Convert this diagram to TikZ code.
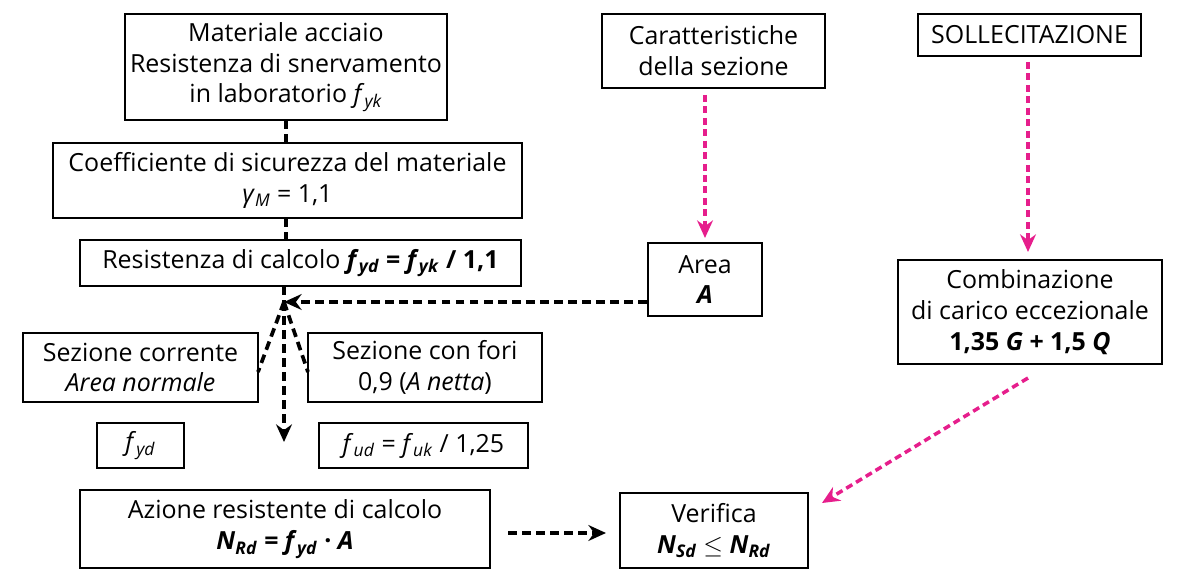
\documentclass[tikz,border=0pt]{standalone}
\usepackage{fontspec}
\setmainfont{Open Sans}
\usetikzlibrary{arrows.meta}
\definecolor{mag}{RGB}{230,30,140}
\newcommand{\vsub}[2]{\textit{#1}\textsubscript{\textit{#2}}}
\tikzset{box/.style={draw,line width=1pt,align=center,inner sep=0pt,font=\fontsize{14.2}{17.5}\selectfont},
 blk/.style={line width=2.1pt,dash pattern=on 5pt off 3pt},
 pink/.style={mag,line width=2pt,dash pattern=on 4pt off 2.5pt},
 tip/.style={-{Stealth[length=10pt,width=9pt]}}}
\begin{document}
\begin{tikzpicture}[x=0.02cm,y=-0.02cm]
\useasboundingbox (0,0) rectangle (1177,574);
\node[box,minimum width=322*0.02cm,minimum height=106*0.02cm] (mat) at (286,67) {Materiale acciaio\\Resistenza di snervamento\\in laboratorio \vsub{f}{yk}};
\node[box,minimum width=469*0.02cm,minimum height=75*0.02cm] (coef) at (287.5,180.5) {Coefficiente di sicurezza del materiale\\\vsub{γ}{M} = 1,1};
\node[box,minimum width=441*0.02cm,minimum height=46*0.02cm] (calc) at (300.5,263) {Resistenza di calcolo \textbf{\vsub{f}{yd} = \vsub{f}{yk} / 1,1}};
\node[box,minimum width=223*0.02cm,minimum height=74*0.02cm] (car) at (713.5,51) {Caratteristiche\\della sezione};
\node[box,minimum width=223*0.02cm,minimum height=42*0.02cm] (soll) at (1029.5,35) {SOLLECITAZIONE};
\node[box,minimum width=114*0.02cm,minimum height=73*0.02cm] (area) at (705,279.5) {Area\\\textbf{\textit{A}}};
\node[box,minimum width=264*0.02cm,minimum height=104*0.02cm] (comb) at (1030,312) {Combinazione\\di carico eccezionale\\\textbf{1,35 \textit{G} + 1,5 \textit{Q}}};
\node[box,minimum width=235*0.02cm,minimum height=69*0.02cm] (sezc) at (140.5,367.5) {Sezione corrente\\\textit{Area normale}};
\node[box,minimum width=234*0.02cm,minimum height=69*0.02cm] (sezf) at (425,367.5) {Sezione con fori\\0,9 (\textit{A netta})};
\node[box,minimum width=87*0.02cm,minimum height=45*0.02cm] (fyd) at (140.5,445.5) {\vsub{f}{yd}};
\node[box,minimum width=209*0.02cm,minimum height=45*0.02cm] (fud) at (423.5,445.5) {\vsub{f}{ud} = \vsub{f}{uk} / 1,25};
\node[box,minimum width=410*0.02cm,minimum height=78*0.02cm] (az) at (285,529) {Azione resistente di calcolo\\\textbf{\vsub{N}{Rd} = \vsub{f}{yd} · \textit{A}}};
\node[box,minimum width=188*0.02cm,minimum height=75*0.02cm] (ver) at (714,530.5) {Verifica\\\textbf{\vsub{N}{Sd}} $\leq$ \textbf{\vsub{N}{Rd}}};
\coordinate (j) at (284,302);
\coordinate (jc) at (258,372);
\coordinate (jf) at (308,372);
\coordinate (jd) at (284,442);
\coordinate (a1) at (508,533);
\coordinate (a2) at (606,533);
\coordinate (p1) at (705,95);
\coordinate (p2) at (705,238);
\coordinate (p3) at (1028,62);
\coordinate (p4) at (1028,252);
\coordinate (p5) at (1028,378);
\coordinate (p6) at (822,503);
\draw[blk] (286,120) -- (286,143);
\draw[blk] (286,218) -- (286,240);
\draw[blk] (284,286) -- (j);
\draw[blk,tip] (j) -- (jd);
\draw[blk] (j) -- (jc);
\draw[blk] (j) -- (jf);
\draw[blk,tip] (area.west |- j) -- (j);
\draw[blk,tip] (a1) -- (a2);
\draw[pink,tip] (p1) -- (p2);
\draw[pink,tip] (p3) -- (p4);
\draw[pink,tip] (p5) -- (p6);
\end{tikzpicture}
\end{document}
